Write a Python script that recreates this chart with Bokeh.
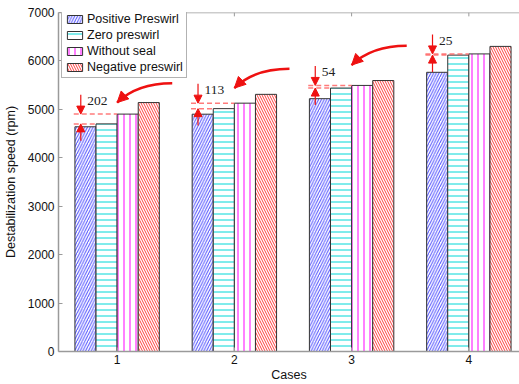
from bokeh.plotting import figure
from bokeh.models import (Range1d, FixedTicker, Arrow, NormalHead, Span,
                          ColumnDataSource, Legend, LegendItem)
from bokeh.core.properties import value
from bokeh.embed import file_html
from bokeh.resources import INLINE

# ---- data ----
cases = [1, 2, 3, 4]
case_labels = ["1", "2", "3", "4"]
positive_preswirl = [4640, 4900, 5220, 5765]
zero_preswirl = [4700, 5015, 5440, 6120]
without_seal = [4902, 5128, 5494, 6145]
negative_preswirl = [5140, 5310, 5595, 6300]
gap_labels = ["202", "113", "54", "25"]
callout_tip_y = [5140, 5440, 5915]          # curved arrow tips (cases 1-3)
y_ticks = [0, 1000, 2000, 3000, 4000, 5000, 6000, 7000]
y_max = 7000

series_names = ["Positive Preswirl", "Zero preswirl", "Without seal", "Negative preswirl"]
series_vals = [positive_preswirl, zero_preswirl, without_seal, negative_preswirl]
hatch_pats = ["/", "-", "|", "\\"]
hatch_cols = ["#5050ff", "#00d8d8", "#ff00ff", "#ff4040"]
hatch_scales = [5.5, 6, 6, 5]
offsets = [-0.27, -0.09, 0.09, 0.27]
bar_w = 0.18

FONT = "Liberation Sans"
AXC = "#9a9a9a"

p = figure(width=519, height=384, output_backend="svg", toolbar_location=None,
           x_range=Range1d(0.5, 4.432), y_range=Range1d(0, y_max),
           min_border_left=57, min_border_right=0, min_border_top=12, min_border_bottom=30,
           x_axis_label="Cases", y_axis_label="Destabilization speed (rpm)")
p.outline_line_color = None
p.xgrid.visible = False
p.ygrid.visible = False
p.background_fill_color = "white"
p.border_fill_color = "white"

items = []
for name, vals, pat, col, sc, off in zip(series_names, series_vals, hatch_pats,
                                          hatch_cols, hatch_scales, offsets):
    src = ColumnDataSource(dict(x=[c + off for c in cases], top=vals))
    r = p.vbar(x="x", top="top", width=bar_w, bottom=0, source=src,
               fill_color="white", line_color="#333333", line_width=1,
               hatch_pattern=pat, hatch_color=col, hatch_scale=sc, hatch_weight=1)
    items.append(LegendItem(label=name, renderers=[r]))

# axes styling
for ax in [p.xaxis[0], p.yaxis[0]]:
    ax.axis_line_color = AXC
    ax.axis_line_width = 1.5
    ax.major_tick_line_color = AXC
    ax.major_tick_in = 4
    ax.major_tick_out = 0
    ax.minor_tick_line_color = None
    ax.major_label_text_font = FONT
    ax.major_label_text_font_size = "12px"
    ax.major_label_text_color = "#111111"
    ax.axis_label_text_font = FONT
    ax.axis_label_text_font_size = "12.5px"
    ax.axis_label_text_font_style = "normal"
    ax.axis_label_text_color = "#111111"

p.xaxis[0].ticker = FixedTicker(ticks=cases)
p.xaxis[0].major_label_overrides = {c: l for c, l in zip(cases, case_labels)}
p.xaxis[0].major_label_standoff = 3
p.xaxis[0].axis_label_standoff = 1
p.yaxis[0].ticker = FixedTicker(ticks=y_ticks)
p.yaxis[0].major_label_standoff = 4
p.yaxis[0].axis_label_standoff = 7

# top box edge with inward ticks
p.add_layout(Span(location=y_max, dimension="width", line_color=AXC, line_width=1.5))
p.segment(x0=cases, y0=[y_max] * 4, x1=cases, y1=[y_max - 80] * 4,
          line_color=AXC, line_width=1)

# ---- annotations ----
RED = "#ee1111"
arrow_dx = -0.31
dn_src = dict(xs=[], ys=[], xe=[], ye=[])
up_src = dict(xs=[], ys=[], xe=[], ye=[])
for c, z, w in zip(cases, zero_preswirl, without_seal):
    ax_ = c + arrow_dx
    dn_src["xs"].append(ax_); dn_src["ys"].append(w + 400)
    dn_src["xe"].append(ax_); dn_src["ye"].append(w)
    up_src["xs"].append(ax_); up_src["ys"].append(z - 350)
    up_src["xe"].append(ax_); up_src["ye"].append(z)

# dashed reference lines
p.segment(x0=[c - 0.37 for c in cases], y0=without_seal, x1=[c + 0.0 for c in cases],
          y1=without_seal, line_color="#ff5a5a", line_width=1.5, line_dash="5 3", line_alpha=0.8)
p.segment(x0=[c - 0.37 for c in cases], y0=zero_preswirl, x1=[c - 0.18 for c in cases],
          y1=zero_preswirl, line_color="#ff5a5a", line_width=1.5, line_dash="5 3", line_alpha=0.8)

for d in (dn_src, up_src):
    p.add_layout(Arrow(source=ColumnDataSource(d), x_start="xs", y_start="ys",
                       x_end="xe", y_end="ye", line_color=RED, line_width=1.2,
                       end=NormalHead(size=8, fill_color=RED, line_color=RED)))

p.text(x=[c + arrow_dx + 0.055 for c in cases], y=[w + 270 for w in without_seal],
       text=gap_labels, text_font=value("Liberation Serif"), text_font_size="13.5px",
       text_baseline="middle", text_align="left", text_color="#222222")

# curved callout arrows
tip_x = [c + 0.0 for c in cases[:3]]
tail_x = [c + 0.47 for c in cases[:3]]
tail_y = [t + 400 for t in callout_tip_y]
ctrl_x = [c + 0.17 for c in cases[:3]]
p.quadratic(x0=tail_x, y0=tail_y, x1=tip_x, y1=callout_tip_y, cx=ctrl_x, cy=tail_y,
            line_color=RED, line_width=2.5)
p.add_layout(Arrow(source=ColumnDataSource(dict(xs=ctrl_x, ys=tail_y, xe=tip_x, ye=callout_tip_y)),
                   x_start="xs", y_start="ys", x_end="xe", y_end="ye",
                   line_alpha=0, line_width=0.1,
                   end=NormalHead(size=11, fill_color=RED, line_color=RED)))

legend = Legend(items=items, location=(3, 273), orientation="vertical",
                label_text_font=FONT, label_text_font_size="12.5px", label_text_color="#111111",
                glyph_width=19, glyph_height=10, label_height=14, label_standoff=3,
                spacing=2, padding=3, margin=0, border_line_color="#666666",
                border_line_width=1, background_fill_alpha=1)
p.add_layout(legend, "center")

open("out.html", "w").write(file_html(p, INLINE))
